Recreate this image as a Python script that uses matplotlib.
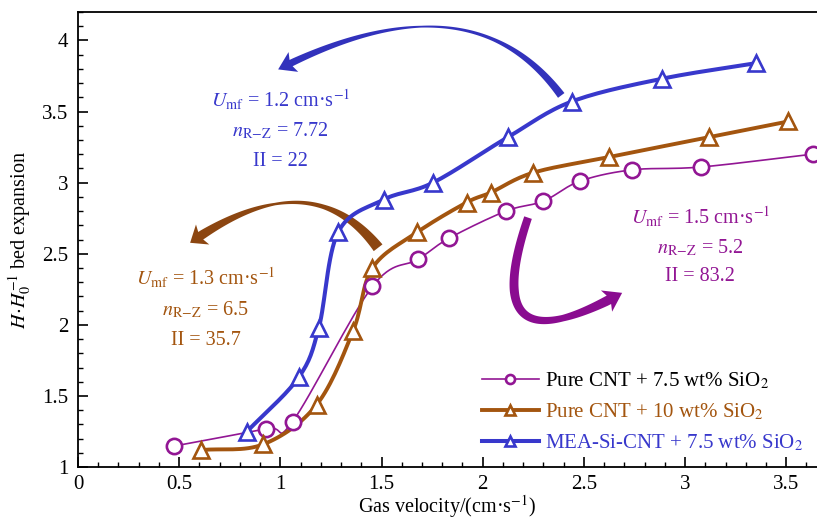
import matplotlib
matplotlib.use('Agg')
import matplotlib.pyplot as plt
import numpy as np
from matplotlib.patches import Polygon
from matplotlib.ticker import MultipleLocator, FormatStrFormatter

plt.rcParams['font.family'] = ['Liberation Serif', 'DejaVu Serif']
plt.rcParams['mathtext.fontset'] = 'stix'

# Pure CNT + 7.5 wt% SiO2
x_p75 = [0.475, 0.93, 1.06, 1.455, 1.68, 1.835, 2.115, 2.30, 2.48, 2.74, 3.08, 3.63]
y_p75 = [1.148, 1.27, 1.32, 2.27, 2.46, 2.61, 2.80, 2.87, 3.01, 3.09, 3.11, 3.20]

# Pure CNT + 10 wt% SiO2
x_p10 = [0.61, 0.915, 1.18, 1.36, 1.455, 1.675, 1.92, 2.04, 2.25, 2.625, 3.12, 3.51]
y_p10 = [1.12, 1.16, 1.44, 1.96, 2.40, 2.65, 2.86, 2.93, 3.07, 3.18, 3.32, 3.43]

# MEA-Si-CNT + 7.5 wt% SiO2
x_mea = [0.835, 1.09, 1.19, 1.285, 1.51, 1.755, 2.125, 2.44, 2.885, 3.35]
y_mea = [1.25, 1.63, 1.98, 2.65, 2.88, 3.00, 3.32, 3.57, 3.73, 3.84]

labels = ['Pure CNT + 7.5 wt% SiO$_2$', 'Pure CNT + 10 wt% SiO$_2$',
          'MEA-Si-CNT + 7.5 wt% SiO$_2$']

c_pur = '#921694'
c_brn = '#A3550F'
c_blu = '#3838CC'


def smooth(x, y, n=16):
    # Catmull-Rom curve through the points (for drawing only)
    p = np.column_stack([x, y]).astype(float)
    p = np.vstack([2 * p[0] - p[1], p, 2 * p[-1] - p[-2]])
    out = []
    t = np.linspace(0, 1, n, endpoint=False)[:, None]
    for i in range(1, len(p) - 2):
        p0, p1, p2, p3 = p[i - 1], p[i], p[i + 1], p[i + 2]
        seg = 0.5 * ((2 * p1) + (-p0 + p2) * t + (2 * p0 - 5 * p1 + 4 * p2 - p3) * t ** 2
                     + (-p0 + 3 * p1 - 3 * p2 + p3) * t ** 3)
        out.append(seg)
    out.append(p[-2][None, :])
    out = np.vstack(out)
    return out[:, 0], out[:, 1]


def curved_arrow(ax, pts, widths, head_w, head_len, color):
    # quadratic bezier arrow with varying shaft width, built in pixel space
    P = ax.transData.transform(pts)
    t = np.linspace(0, 1, 400)[:, None]
    B = (1 - t) ** 2 * P[0] + 2 * (1 - t) * t * P[1] + t ** 2 * P[2]
    seg = np.hypot(*np.diff(B, axis=0).T)
    s = np.concatenate([[0], np.cumsum(seg)])
    k = np.searchsorted(s, s[-1] - head_len)
    sh = B[:k + 1]
    d = np.gradient(sh, axis=0)
    d /= np.hypot(d[:, 0], d[:, 1])[:, None]
    nrm = np.column_stack([-d[:, 1], d[:, 0]])
    frac = s[:k + 1] / s[k]
    w = np.interp(frac, [f for f, _ in widths], [v for _, v in widths])[:, None] / 2
    left = sh + nrm * w
    right = sh - nrm * w
    tip = B[-1]
    base = sh[-1]
    dd = (tip - base) / np.hypot(*(tip - base))
    nn = np.array([-dd[1], dd[0]])
    notch = base + dd * head_len * 0.15
    head = [notch + nn * w[-1, 0], base + nn * head_w / 2, tip,
            base - nn * head_w / 2, notch - nn * w[-1, 0]]
    verts = np.vstack([left[:-1], head, right[:-1][::-1]])
    verts = ax.transData.inverted().transform(verts)
    ax.add_patch(Polygon(verts, closed=True, facecolor=color, edgecolor='none', zorder=2))


fig = plt.figure(figsize=(8.17, 5.19), dpi=100)
ax = fig.add_axes([0.0955, 0.100, 0.904, 0.877])

series = [(x_p75, y_p75, c_pur, 'o', 1.2, 11), (x_p10, y_p10, c_brn, '^', 2.8, 12),
          (x_mea, y_mea, c_blu, '^', 2.9, 12)]
handles = []
for (xs, ys, c, m, lw, ms), lab in zip(series, labels):
    sx, sy = smooth(xs, ys)
    ax.plot(sx, sy, color=c, lw=lw, zorder=3)
    ax.plot(xs, ys, ls='none', marker=m, ms=ms, mfc='white', mec=c, mew=1.9, zorder=4)
    h, = ax.plot([], [], color=c, lw=lw, marker=m, ms=6.5, mfc='white', mec=c, mew=1.9)
    handles.append(h)

ax.set_xlim(0, 3.65)
ax.set_ylim(1, 4.2)

leg = ax.legend(handles, labels, loc='lower right', bbox_to_anchor=(1.0, 0.0),
                frameon=False, fontsize=15, handlelength=2.7, handletextpad=0.3,
                labelspacing=0.5, borderaxespad=0.25)
for t, c in zip(leg.get_texts(), ['black', c_brn, c_blu]):
    t.set_color(c)

ax.xaxis.set_major_locator(MultipleLocator(0.5))
ax.xaxis.set_minor_locator(MultipleLocator(0.1))
ax.yaxis.set_major_locator(MultipleLocator(0.5))
ax.yaxis.set_minor_locator(MultipleLocator(0.1))
ax.xaxis.set_major_formatter(FormatStrFormatter('%g'))
ax.yaxis.set_major_formatter(FormatStrFormatter('%g'))
ax.tick_params(which='both', direction='in', top=False, right=False, labelsize=15)
ax.tick_params(which='major', length=7, width=1.2, pad=7)
ax.tick_params(axis='x', which='major', pad=6)
ax.tick_params(which='minor', length=3.5, width=1.0)
ax.spines['right'].set_visible(False)
for s in ['left', 'bottom', 'top']:
    ax.spines[s].set_linewidth(1.3)

ax.set_xlabel('Gas velocity/(cm·s$^{-1}$)', fontsize=14.5, labelpad=-1)
ax.set_ylabel(r'$H\!\cdot\!H_0^{-1}$ bed expansion', fontsize=14.5, labelpad=6)

# annotations
ax.text(1.0, 3.585, r'$U_{\rm mf}$ = 1.2 cm·s$^{-1}$', color=c_blu, fontsize=14.5, ha='center', va='center')
ax.text(1.0, 3.36, r'$n_{\rm R\!-\!Z}$ = 7.72', color=c_blu, fontsize=14.5, ha='center', va='center')
ax.text(1.0, 3.15, 'II = 22', color=c_blu, fontsize=14.5, ha='center', va='center')

ax.text(0.63, 2.33, r'$U_{\rm mf}$ = 1.3 cm·s$^{-1}$', color=c_brn, fontsize=14.5, ha='center', va='center')
ax.text(0.63, 2.105, r'$n_{\rm R\!-\!Z}$ = 6.5', color=c_brn, fontsize=14.5, ha='center', va='center')
ax.text(0.63, 1.89, 'II = 35.7', color=c_brn, fontsize=14.5, ha='center', va='center')

ax.text(3.075, 2.76, r'$U_{\rm mf}$ = 1.5 cm·s$^{-1}$', color=c_pur, fontsize=14.5, ha='center', va='center')
ax.text(3.075, 2.54, r'$n_{\rm R\!-\!Z}$ = 5.2', color=c_pur, fontsize=14.5, ha='center', va='center')
ax.text(3.075, 2.34, 'II = 83.2', color=c_pur, fontsize=14.5, ha='center', va='center')

# curved arrows
curved_arrow(ax, [(2.388, 3.613), (1.938, 4.479), (0.989, 3.796)],
             [(0, 8), (0.3, 3.5), (0.55, 1.8), (1.0, 7)], 22, 17, '#3232BC')
curved_arrow(ax, [(1.483, 2.542), (1.147, 3.162), (0.554, 2.577)],
             [(0, 11), (0.35, 4.5), (0.6, 2.5), (1.0, 9)], 24, 15, '#8C4611')
curved_arrow(ax, [(2.224, 2.754), (1.962, 1.655), (2.689, 2.225)],
             [(0, 8), (0.4, 9), (0.75, 6.5), (1.0, 9.5)], 24, 18, '#8A0C90')

plt.savefig('out.png', dpi=100)
plt.close()
